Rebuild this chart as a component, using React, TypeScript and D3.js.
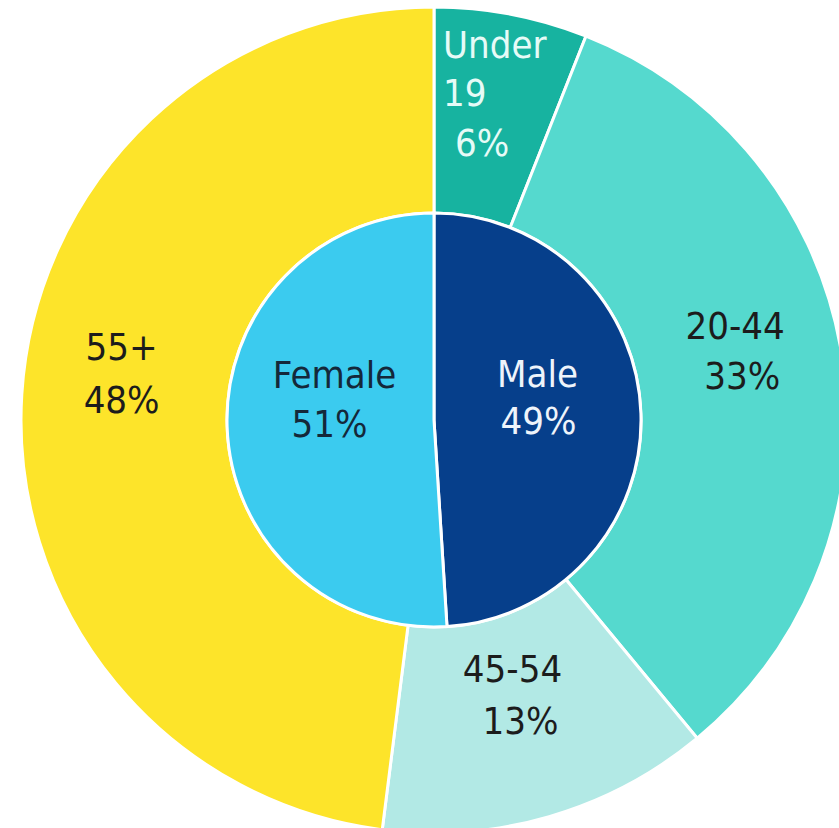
import React, { useRef, useEffect } from 'react'
import * as d3 from 'd3'

// Outer ring: age groups, inner pie: gender split
const ageGroups = ['Under 19', '20-44', '45-54', '55+']
const ageShares = [6, 33, 13, 48]
const ageColors = ['#17b3a0', '#55d9ce', '#b2e9e5', '#fde42a']
const ageTextColors = ['#e6fbf7', '#1c1c1c', '#1c1c1c', '#1c1c1c']
// lines of each label and a small nudge from the arc centroid
const ageLabelLines = [['Under', '19', '6%'], ['20-44', '33%'], ['45-54', '13%'], ['55+', '48%']]

const genders = ['Male', 'Female']
const genderShares = [49, 51]
const genderColors = ['#063f8b', '#3bcbef']
const genderTextColors = ['#eef4fb', '#14283a']

const width = 839
const height = 828
const cx = 434
const cy = 420
const rOuter = 413
const rInner = 207

export default function App() {
  const svgRef = useRef<SVGSVGElement | null>(null)

  useEffect(() => {
    const svg = d3.select(svgRef.current)
    svg.selectAll('*').remove()
    const g = svg.append('g').attr('transform', `translate(${cx}, ${cy})`)
    const font = "'DejaVu Sans Condensed', 'DejaVu Sans', sans-serif"

    const pie = d3.pie<number>().sort(null).value((d) => d)

    // Anneau extérieur
    const outerArc = d3.arc<d3.PieArcDatum<number>>().innerRadius(rInner).outerRadius(rOuter)
    const ageArcs = pie(ageShares)
    g.selectAll('path.age')
      .data(ageArcs)
      .join('path')
      .attr('class', 'age')
      .attr('d', outerArc)
      .attr('fill', (_, i) => ageColors[i])
      .attr('stroke', '#fff')
      .attr('stroke-width', 3)

    // Camembert intérieur
    const innerArc = d3.arc<d3.PieArcDatum<number>>().innerRadius(0).outerRadius(rInner)
    const genderArcs = pie(genderShares)
    g.selectAll('path.gender')
      .data(genderArcs)
      .join('path')
      .attr('class', 'gender')
      .attr('d', innerArc)
      .attr('fill', (_, i) => genderColors[i])
      .attr('stroke', '#fff')
      .attr('stroke-width', 3)

    // Libellés
    const ageNudges = [
      [[-49, -58, 'start'], [-49, -10, 'start'], [-37, 40, 'start']],
      [[-5, -33, 'middle'], [2, 17, 'middle']],
      [[-8, -36, 'middle'], [0, 16, 'middle']],
      [[-3, -41, 'middle'], [-3, 12, 'middle']],
    ]
    ageArcs.forEach((a, i) => {
      const [x0, y0] = outerArc.centroid(a)
      ageLabelLines[i].forEach((line, j) => {
        const [dx, dy, anchor] = ageNudges[i][j] as [number, number, string]
        g.append('text')
          .attr('x', x0 + dx)
          .attr('y', y0 + dy)
          .attr('text-anchor', anchor)
          .attr('fill', ageTextColors[i])
          .style('font-family', font)
          .style('font-size', '38px')
          .text(line)
      })
    })

    const genderNudges = [
      [[0, -30], [1, 17]],
      [[4, -35], [-1, 14]],
    ]
    genderArcs.forEach((a, i) => {
      const [x0, y0] = innerArc.centroid(a)
      const lines = [genders[i], `${genderShares[i]}%`]
      lines.forEach((line, j) => {
        const [dx, dy] = genderNudges[i][j]
        g.append('text')
          .attr('x', x0 + dx)
          .attr('y', y0 + dy)
          .attr('text-anchor', 'middle')
          .attr('fill', genderTextColors[i])
          .style('font-family', font)
          .style('font-size', '38px')
          .text(line)
      })
    })
  }, [])

  return (
    <svg
      ref={svgRef}
      width={width}
      height={height}
      style={{ position: 'absolute', left: 0, top: 0, background: '#fff' }}
    />
  )
}
